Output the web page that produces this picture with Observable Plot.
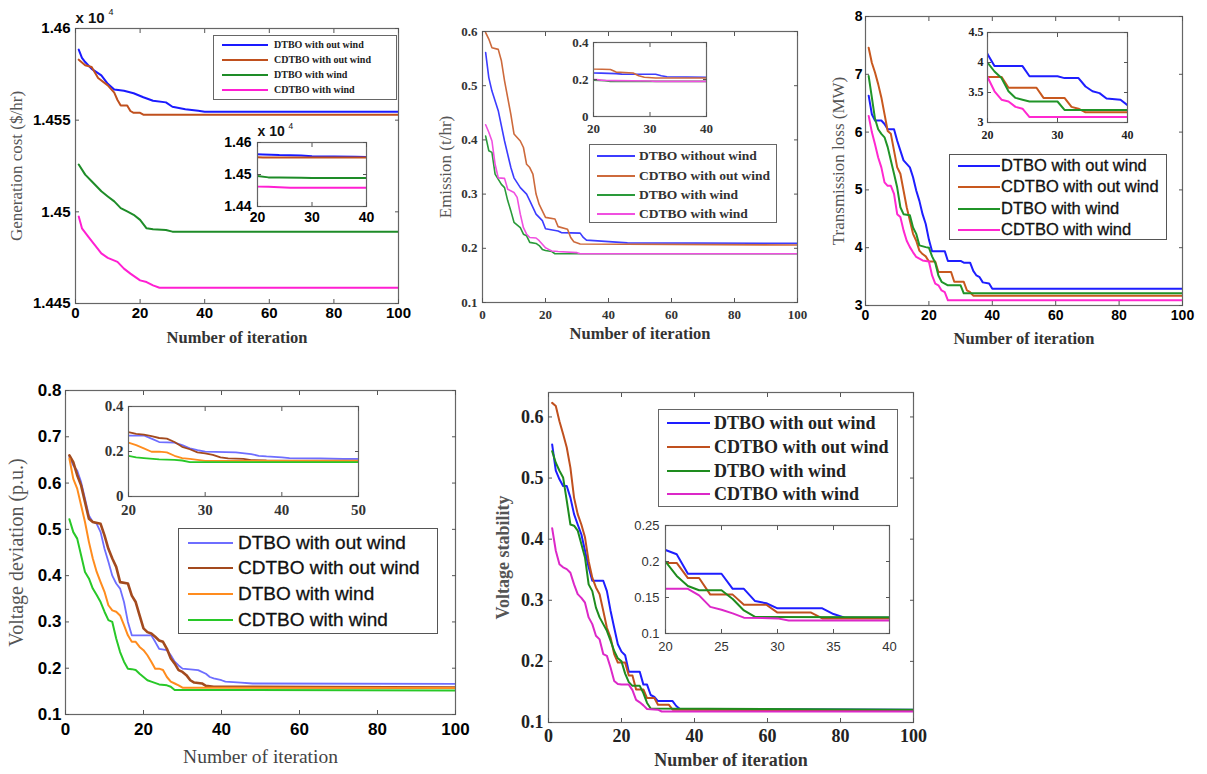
<!DOCTYPE html>
<html><head><meta charset="utf-8">
<script src="https://cdn.jsdelivr.net/npm/d3@7"></script>
<script src="https://cdn.jsdelivr.net/npm/@observablehq/plot@0.6"></script>
<style>
body{margin:0;background:#fff;}
#root{position:relative;width:1207px;height:774px;overflow:hidden;background:#fff}
.legend{position:absolute;border:1px solid #666;background:#fff;box-sizing:border-box}
.legend .ln{position:absolute}
.legend .tx{position:absolute;white-space:nowrap;line-height:1;transform:translateY(-52%)}
</style></head><body><div id="root"></div>
<script>
// ---------------- data ----------------
const labelsA = ["DTBO with out wind","CDTBO with out wind","DTBO with wind","CDTBO with wind"];
const labelsB = ["DTBO without wind","CDTBO with out wind","DTBO with wind","CDTBO with wind"];
const iterTicks = [0,20,40,60,80,100];

// Generation cost (x 10^4 $/hr)
const costDTBOnw = [[1,1.45885],[2,1.4584],[3,1.45817],[5,1.4578],[8,1.45744],[10,1.45698],[12,1.45667],[15,1.4566],[18,1.45647],[21,1.45625],[24,1.45606],[28,1.45597],[30,1.45573],[34,1.4556],[38,1.45551],[40,1.45546],[100,1.45546]];
const costCDTBOnw = [[1,1.4583],[3,1.458],[5,1.4579],[7,1.4573],[10,1.4569],[12,1.4565],[13,1.4561],[14,1.4558],[16,1.4558],[17,1.4555],[18,1.4554],[20,1.4554],[21,1.4553],[100,1.4553]];
const costDTBOw = [[1,1.45258],[3,1.45203],[5,1.45167],[8,1.45112],[10,1.45084],[12,1.45057],[14,1.4502],[16,1.45002],[18,1.44984],[20,1.44956],[22,1.4491],[24,1.44905],[28,1.44901],[30,1.44892],[100,1.44892]];
const costCDTBOw = [[1,1.44974],[2,1.4491],[4,1.44864],[6,1.44819],[8,1.44773],[10,1.44749],[13,1.44727],[15,1.4469],[17,1.44663],[20,1.44626],[22,1.44617],[24,1.44599],[26,1.44586],[100,1.44586]];
const costTicks = [1.445,1.45,1.455,1.46];
const costInsetTicks = [1.44,1.45,1.46];

// Emission (t/hr)
const emDTBOnw = [[1,0.561],[2,0.515],[3,0.49],[5,0.454],[7,0.398],[9,0.349],[10,0.33],[12,0.312],[14,0.3],[15,0.288],[17,0.263],[19,0.251],[20,0.236],[24,0.232],[25,0.229],[31,0.228],[32,0.22],[33,0.215],[46,0.21],[100,0.209]];
const emCDTBOnw = [[1,0.598],[2,0.586],[3,0.57],[5,0.567],[6,0.546],[7,0.509],[8,0.478],[9,0.447],[10,0.411],[12,0.398],[13,0.386],[14,0.355],[15,0.349],[16,0.337],[17,0.3],[18,0.281],[19,0.269],[20,0.257],[23,0.254],[24,0.24],[27,0.235],[28,0.22],[29,0.212],[31,0.208],[100,0.206]];
const emDTBOw = [[1,0.407],[2,0.38],[3,0.377],[4,0.337],[6,0.318],[7,0.312],[8,0.288],[9,0.269],[10,0.248],[12,0.238],[13,0.226],[14,0.223],[15,0.211],[17,0.209],[18,0.205],[19,0.198],[20,0.196],[22,0.194],[23,0.19],[100,0.19]];
const emCDTBOw = [[1,0.428],[2,0.414],[3,0.398],[4,0.355],[5,0.33],[7,0.329],[8,0.309],[10,0.303],[11,0.294],[12,0.263],[13,0.238],[14,0.226],[15,0.22],[17,0.219],[18,0.214],[20,0.201],[21,0.198],[22,0.195],[24,0.194],[30,0.192],[31,0.19],[100,0.19]];
const emTicks = [0.1,0.2,0.3,0.4,0.5,0.6];
const emInsetTicks = [0,0.2,0.4];

// Transmission loss (MW)
const lossDTBOnw = [[1,6.63],[2,6.31],[3,6.2],[5,6.2],[6,6.14],[7,6.05],[9,6.05],[10,5.85],[11,5.68],[12,5.51],[14,5.39],[15,5.22],[16,4.99],[17,4.81],[18,4.58],[19,4.41],[20,4.14],[21,3.94],[25,3.94],[26,3.77],[30,3.77],[31,3.74],[33,3.74],[34,3.6],[35,3.52],[36,3.49],[37,3.4],[39,3.38],[40,3.29],[100,3.29]];
const lossCDTBOnw = [[1,7.46],[2,7.2],[3,7.03],[4,6.83],[5,6.6],[6,6.31],[7,6.02],[8,5.97],[9,5.68],[10,5.39],[11,5.28],[12,4.99],[13,4.7],[14,4.47],[15,4.24],[16,4.12],[17,3.95],[18,3.89],[19,3.85],[20,3.76],[22,3.76],[23,3.58],[27,3.58],[28,3.41],[31,3.41],[32,3.26],[33,3.23],[34,3.17],[100,3.17]];
const lossDTBOw = [[1,6.97],[2,6.6],[3,6.23],[4,6.05],[5,5.97],[6,5.91],[7,5.74],[8,5.51],[9,5.28],[10,5.04],[11,4.7],[12,4.58],[14,4.56],[15,4.35],[16,4.24],[17,4.04],[19,4.01],[20,4.0],[21,3.85],[22,3.74],[23,3.52],[24,3.41],[25,3.38],[26,3.35],[30,3.35],[31,3.21],[100,3.21]];
const lossCDTBOw = [[1,6.28],[2,6.0],[3,5.79],[4,5.56],[5,5.39],[6,5.13],[7,5.07],[8,5.07],[9,4.93],[10,4.58],[11,4.53],[12,4.3],[13,4.12],[14,4.01],[15,3.92],[16,3.84],[17,3.81],[18,3.78],[20,3.76],[21,3.52],[22,3.38],[23,3.35],[24,3.26],[25,3.23],[26,3.09],[100,3.09]];
const lossTicks = [3,4,5,6,7,8];
const lossInsetTicks = [3,3.5,4,4.5];

// Voltage deviation (p.u.)
const vdDTBOnw = [[1,0.656],[2,0.638],[3,0.627],[4,0.602],[5,0.566],[6,0.53],[7,0.516],[8,0.512],[9,0.494],[10,0.458],[11,0.43],[12,0.4],[13,0.383],[14,0.372],[15,0.343],[16,0.3],[17,0.271],[22,0.271],[23,0.257],[24,0.242],[26,0.239],[27,0.228],[28,0.214],[29,0.206],[30,0.199],[34,0.196],[36,0.188],[37,0.181],[38,0.178],[40,0.174],[41,0.171],[45,0.169],[48,0.167],[100,0.166]];
const vdCDTBOnw = [[1,0.66],[2,0.645],[3,0.617],[4,0.595],[5,0.559],[6,0.523],[7,0.516],[9,0.512],[10,0.487],[11,0.458],[12,0.437],[13,0.419],[14,0.386],[16,0.383],[17,0.357],[18,0.343],[19,0.314],[20,0.286],[21,0.278],[22,0.275],[23,0.268],[24,0.26],[25,0.257],[26,0.242],[27,0.221],[28,0.21],[29,0.196],[30,0.192],[31,0.185],[32,0.174],[33,0.169],[35,0.167],[36,0.162],[38,0.16],[100,0.158]];
const vdDTBOw = [[1,0.653],[2,0.609],[3,0.588],[4,0.552],[5,0.516],[6,0.473],[7,0.437],[8,0.408],[9,0.386],[10,0.365],[11,0.336],[12,0.325],[13,0.322],[14,0.314],[15,0.293],[16,0.271],[17,0.257],[18,0.257],[19,0.246],[20,0.239],[21,0.228],[22,0.214],[23,0.199],[24,0.199],[25,0.196],[26,0.181],[27,0.171],[28,0.167],[29,0.163],[30,0.158],[100,0.157]];
const vdCDTBOw = [[1,0.522],[2,0.494],[3,0.48],[4,0.444],[5,0.408],[6,0.394],[7,0.372],[8,0.358],[9,0.343],[10,0.322],[11,0.304],[12,0.3],[13,0.264],[14,0.235],[15,0.214],[16,0.199],[17,0.198],[18,0.196],[19,0.188],[20,0.181],[21,0.174],[22,0.171],[24,0.165],[26,0.163],[27,0.16],[28,0.153],[100,0.152]];
const vdTicks = [0.1,0.2,0.3,0.4,0.5,0.6,0.7,0.8];
const vdInsetTicks = [0,0.2,0.4];
const vdInsetIter = [20,30,40,50];

// Voltage stability
const vsDTBOnw = [[1,0.555],[2,0.512],[3,0.498],[4,0.487],[5,0.487],[6,0.468],[7,0.441],[8,0.424],[9,0.408],[10,0.381],[11,0.354],[12,0.332],[15,0.332],[16,0.315],[17,0.283],[18,0.255],[19,0.228],[20,0.216],[21,0.21],[22,0.183],[25,0.183],[26,0.162],[27,0.162],[28,0.145],[29,0.142],[30,0.135],[34,0.135],[35,0.127],[36,0.122],[100,0.121]];
const vsCDTBOnw = [[1,0.623],[2,0.618],[3,0.593],[4,0.572],[5,0.55],[6,0.517],[7,0.468],[8,0.441],[9,0.424],[10,0.403],[11,0.364],[12,0.337],[13,0.321],[14,0.31],[15,0.283],[16,0.255],[17,0.239],[18,0.212],[19,0.198],[21,0.198],[22,0.177],[23,0.177],[24,0.154],[26,0.154],[27,0.14],[29,0.14],[30,0.129],[33,0.129],[34,0.121],[100,0.12]];
const vsDTBOw = [[1,0.544],[2,0.525],[3,0.512],[4,0.501],[5,0.463],[6,0.424],[7,0.422],[8,0.414],[9,0.392],[10,0.37],[11,0.326],[12,0.315],[13,0.288],[14,0.272],[15,0.261],[16,0.25],[17,0.234],[18,0.217],[19,0.205],[20,0.2],[21,0.18],[22,0.166],[23,0.16],[25,0.16],[26,0.148],[27,0.132],[28,0.123],[100,0.121]];
const vsCDTBOw = [[1,0.418],[2,0.381],[3,0.359],[4,0.354],[5,0.351],[6,0.345],[7,0.326],[8,0.31],[9,0.304],[10,0.296],[11,0.272],[12,0.261],[13,0.242],[14,0.236],[15,0.212],[16,0.209],[17,0.19],[18,0.168],[19,0.163],[20,0.162],[22,0.162],[23,0.153],[24,0.137],[25,0.133],[26,0.128],[27,0.122],[30,0.121],[31,0.118],[100,0.118]];
const vsTicks = [0.1,0.2,0.3,0.4,0.5,0.6];
const vsInsetTicks = [0.1,0.15,0.2,0.25];
const vsInsetIter = [20,25,30,35,40];
const insetIter = [20,30,40];

// ---------------- drawing ----------------
const SERIF = "Liberation Serif, Times New Roman, serif";
const SANS = "Liberation Sans, Arial, sans-serif";
const root = document.getElementById("root");

function panel(o) {
  const f = o.frame, b = o.box;
  const ml = f[0]-b[0], mt = f[1]-b[1], mr = b[2]-f[2], mb = b[3]-f[3];
  const marks = [];
  if (o.inset) marks.push(Plot.frame({fill: "white"}));
  o.series.forEach((s, i) => marks.push(Plot.line(s, {x: d => d[0], y: d => d[1], stroke: o.colors[i], strokeWidth: (o.sws ? o.sws[i] : o.sw), clip: true})));
  marks.push(Plot.frame({stroke: "#666", strokeWidth: 1.2}));
  const tk = {fontFamily: o.tickFont, fontSize: o.tickSize, fontWeight: o.tickWeight || "bold", fill: o.tickColor || "#000", stroke: "#555", label: null, tickFormat: d => String(d)};
  marks.push(Plot.axisX(o.xTicks, {...tk, anchor: "bottom", tickSize: -4, tickPadding: o.xPad + 4}));
  marks.push(Plot.axisY(o.yTicks, {...tk, anchor: "left", tickSize: -4, tickPadding: o.yPad + 4}));
  marks.push(Plot.axisX(o.xTicks, {anchor: "top", tickSize: -4, tickFormat: () => "", stroke: "#555", label: null}));
  marks.push(Plot.axisY(o.yTicks, {anchor: "right", tickSize: -4, tickFormat: () => "", stroke: "#555", label: null}));
  if (o.yLabel) marks.push(Plot.text([o.yLabel.text], {text: d => d, frameAnchor: "left", rotate: -90, dx: o.yLabel.x - f[0], textAnchor: "middle", lineAnchor: "middle", fontFamily: SERIF, fontSize: o.yLabel.size, fontWeight: o.yLabel.weight || "normal", fill: o.yLabel.color || "#555"}));
  if (o.xLabel) marks.push(Plot.text([o.xLabel.text], {text: d => d, frameAnchor: "bottom", dy: o.xLabel.y - f[3], textAnchor: "middle", lineAnchor: "bottom", fontFamily: SERIF, fontSize: o.xLabel.size, fontWeight: o.xLabel.weight || "bold", fill: o.xLabel.color || "#333"}));
  if (o.exp) {
    marks.push(Plot.text(["x 10"], {text: d => d, frameAnchor: "top-left", textAnchor: "start", lineAnchor: "bottom", dy: o.exp.dy, fontFamily: SANS, fontWeight: "bold", fontSize: o.exp.size, fill: "#111"}));
    marks.push(Plot.text(["4"], {text: d => d, frameAnchor: "top-left", textAnchor: "start", lineAnchor: "bottom", dx: o.exp.dx, dy: o.exp.dy - o.exp.size * 0.5, fontFamily: SANS, fontSize: o.exp.size * 0.6, fill: "#111"}));
  }
  const svg = Plot.plot({
    width: b[2]-b[0], height: b[3]-b[1],
    marginLeft: ml, marginRight: mr, marginTop: mt, marginBottom: mb,
    x: {domain: o.xDomain}, y: {domain: o.yDomain},
    style: {background: "transparent", overflow: "visible", maxWidth: "none"},
    marks
  });
  svg.style.position = "absolute";
  svg.style.left = b[0] + "px";
  svg.style.top = b[1] + "px";
  root.appendChild(svg);
}

function insetBox(frame) {
  return [frame[0]-48, frame[1]-20, frame[2]+6, frame[3]+24];
}

function legend(o) {
  const d = document.createElement("div");
  d.className = "legend";
  Object.assign(d.style, {left: o.box[0]+"px", top: o.box[1]+"px", width: (o.box[2]-o.box[0])+"px", height: (o.box[3]-o.box[1])+"px", borderColor: o.border || "#666"});
  o.labels.forEach((lab, i) => {
    const ln = document.createElement("div");
    ln.className = "ln";
    Object.assign(ln.style, {left: (o.lineX[0]-o.box[0]-1)+"px", width: (o.lineX[1]-o.lineX[0])+"px", top: (o.rows[i]-o.box[1]-1-o.sw/2)+"px", height: o.sw+"px", background: o.colors[i]});
    d.appendChild(ln);
    const t = document.createElement("div");
    t.className = "tx";
    t.textContent = lab;
    Object.assign(t.style, {left: (o.textX-o.box[0]-1)+"px", top: (o.rows[i]-o.box[1]-1)+"px", fontFamily: o.font, fontSize: o.size+"px", fontWeight: o.weight, color: o.color || "#222"});
    if (o.stroke) t.style.webkitTextStroke = o.stroke;
    d.appendChild(t);
  });
  root.appendChild(d);
}

// Panel 1: generation cost
const c1 = ["#1a1aff","#c0501e","#1e8c28","#ff1fd2"];
const s1 = [costDTBOnw, costCDTBOnw, costDTBOw, costCDTBOw];
panel({box: [0,0,402,352], frame: [75,28,398,303], xDomain: [0,100], yDomain: [1.445,1.46], xTicks: iterTicks, yTicks: costTicks,
  series: s1, colors: c1, sw: 2, tickFont: SANS, tickSize: 15, xPad: 4, yPad: 5,
  yLabel: {text: "Generation cost ($/hr)", x: 16, size: 17}, xLabel: {text: "Number of iteration", y: 342, size: 16.5},
  exp: {dy: -6, dx: 33, size: 15}});
const f1i = [257,142,366,206];
panel({box: insetBox(f1i), frame: f1i, inset: true, xDomain: [20,40], yDomain: [1.44,1.46], xTicks: insetIter, yTicks: costInsetTicks,
  series: s1, colors: c1, sw: 2, tickFont: SANS, tickSize: 14, xPad: 6, yPad: 6, exp: {dy: -7, dx: 31, size: 14}});
legend({box: [213,35,397,100], rows: [45,60,75,90], lineX: [222,268], textX: 274, labels: labelsA, colors: c1, sw: 2.5, font: SERIF, size: 10, weight: "bold"});

// Panel 2: emission
const c2 = ["#3c3cff","#cd6a3c","#2a9a3a","#f050e0"];
const s2 = [emDTBOnw, emCDTBOnw, emDTBOw, emCDTBOw];
panel({box: [402,0,800,352], frame: [482,31,797,302], xDomain: [0,100], yDomain: [0.1,0.6], xTicks: iterTicks, yTicks: emTicks,
  series: s2, colors: c2, sw: 1.6, tickFont: SERIF, tickSize: 13, tickColor: "#333", xPad: 7, yPad: 5,
  yLabel: {text: "Emission (t/hr)", x: 445, size: 17}, xLabel: {text: "Number of iteration", y: 338, size: 16.5}});
const f2i = [593,42,706,116];
panel({box: insetBox(f2i), frame: f2i, inset: true, xDomain: [20,40], yDomain: [0,0.4], xTicks: insetIter, yTicks: emInsetTicks,
  series: s2, colors: c2, sw: 1.6, tickFont: SERIF, tickSize: 13, tickColor: "#333", xPad: 7, yPad: 5});
legend({box: [589,144,777,223], rows: [156,176,195,214], lineX: [597,635], textX: 639, labels: labelsB, colors: c2, sw: 1.6, font: SERIF, size: 13.5, weight: "bold", color: "#333"});

// Panel 3: transmission loss
const c3 = ["#1e1eff","#c8581e","#209428","#ff28d0"];
const s3 = [lossDTBOnw, lossCDTBOnw, lossDTBOw, lossCDTBOw];
panel({box: [802,0,1207,352], frame: [865,16,1182,305], xDomain: [0,100], yDomain: [3,8], xTicks: iterTicks, yTicks: lossTicks,
  series: s3, colors: c3, sw: 2, tickFont: SANS, tickSize: 14, xPad: 5, yPad: 3,
  yLabel: {text: "Transmission loss (MW)", x: 838, size: 17}, xLabel: {text: "Number of iteration", y: 343, size: 16.5}});
const f3i = [987,32,1127,122];
panel({box: insetBox(f3i), frame: f3i, inset: true, xDomain: [20,40], yDomain: [3,4.5], xTicks: insetIter, yTicks: lossInsetTicks,
  series: s3, colors: c3, sw: 2, tickFont: SERIF, tickSize: 12, tickColor: "#222", xPad: 8, yPad: 4});
legend({box: [949,154,1167,240], rows: [166,187,209,230], lineX: [958,1000], textX: 1001, labels: labelsA, colors: c3, sw: 2.2, font: SANS, size: 16.5, weight: "normal", color: "#111", border: "#555", stroke: "0.3px #111"});

// Panel 4: voltage deviation
const c4 = ["#6e6eff","#a34a1e","#ff8c1e","#28c828"];
const s4 = [vdDTBOnw, vdCDTBOnw, vdDTBOw, vdCDTBOw];
panel({box: [0,372,470,774], frame: [65,390,455,714], xDomain: [0,100], yDomain: [0.1,0.8], xTicks: iterTicks, yTicks: vdTicks,
  series: s4, colors: c4, sws: [1.8,2.6,2,2], tickFont: SANS, tickSize: 17, xPad: 8, yPad: 4,
  yLabel: {text: "Voltage deviation (p.u.)", x: 16, size: 20}, xLabel: {text: "Number of iteration", y: 762, size: 19.5, weight: "normal", color: "#444"}});
const f4i = [128,406,358,496];
panel({box: insetBox(f4i), frame: f4i, inset: true, xDomain: [20,50], yDomain: [0,0.4], xTicks: vdInsetIter, yTicks: vdInsetTicks,
  series: s4, colors: c4, sw: 1.8, tickFont: SERIF, tickSize: 15, tickColor: "#333", xPad: 8, yPad: 5});
legend({box: [178,528,438,634], rows: [543,568,594,620], lineX: [188,233], textX: 238, labels: labelsA, colors: c4, sw: 2.5, font: SANS, size: 19, weight: "normal", color: "#111", border: "#555", stroke: "0.3px #111"});

// Panel 5: voltage stability
const c5 = ["#1e1eff","#c0501e","#1e8c1e","#dc28c8"];
const s5 = [vsDTBOnw, vsCDTBOnw, vsDTBOw, vsCDTBOw];
panel({box: [480,372,930,774], frame: [548,392,913,722], xDomain: [0,100], yDomain: [0.1,0.64], xTicks: iterTicks, yTicks: vsTicks,
  series: s5, colors: c5, sw: 2, tickFont: SERIF, tickSize: 18, tickColor: "#222", xPad: 7, yPad: 5,
  yLabel: {text: "Voltage stability", x: 503, size: 18, weight: "bold"}, xLabel: {text: "Number of iteration", y: 765, size: 18}});
const f5i = [665,525,889,633];
panel({box: insetBox(f5i), frame: f5i, inset: true, xDomain: [20,40], yDomain: [0.1,0.25], xTicks: vsInsetIter, yTicks: vsInsetTicks,
  series: s5, colors: c5, sw: 2, tickFont: SANS, tickSize: 13, tickWeight: "normal", tickColor: "#333", xPad: 8, yPad: 6});
legend({box: [658,409,898,507], rows: [423,447,471,494], lineX: [667,710], textX: 714, labels: labelsA, colors: c5, sw: 2.2, font: SERIF, size: 18, weight: "bold", color: "#222"});
</script></body></html>
